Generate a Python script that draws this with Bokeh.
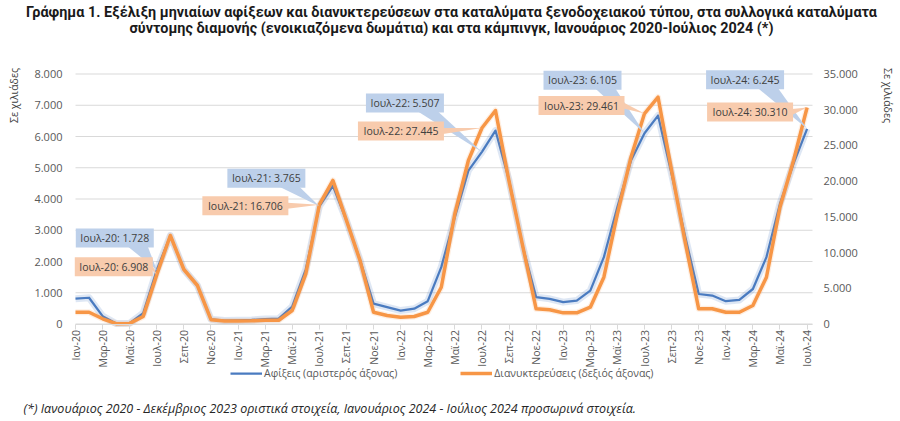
import math
from bokeh.plotting import figure
from bokeh.models import LinearAxis, Range1d, FixedTicker, Label, Legend, LegendItem
from bokeh.core.properties import value
from bokeh.embed import file_html
from bokeh.resources import INLINE

# ---------------- data ----------------
month_names = ["Ιαν", "Φεβ", "Μαρ", "Απρ", "Μαϊ", "Ιουν", "Ιουλ", "Αυγ", "Σεπ", "Οκτ", "Νοε", "Δεκ"]
years = ["20", "21", "22", "23", "24"]
periods = [f"{m}-{y}" for y in years for m in month_names][:55]

# arrivals, thousands (left axis)
arrivals = [810, 840, 250, 15, 25, 350, 1728, 2830, 1740, 1230, 150, 110,
            120, 130, 160, 170, 560, 1750, 3765, 4420, 3310, 2050, 650, 540,
            430, 490, 730, 1820, 3420, 4910, 5507, 6190, 4600, 2500, 860, 805,
            700, 750, 1070, 2140, 3740, 5230, 6105, 6670, 4800, 2800, 960, 910,
            730, 770, 1120, 2140, 3850, 5130, 6245]
# overnight stays, thousands (right axis)
nights = [1650, 1650, 730, 50, 80, 1050, 6908, 12390, 7630, 5390, 600, 420,
          430, 440, 520, 520, 1890, 7030, 16706, 20100, 14500, 8900, 1650, 1190,
          950, 1050, 1650, 5150, 15430, 22890, 27445, 29890, 20000, 11000, 2130, 1990,
          1560, 1560, 2350, 6550, 15430, 23350, 29461, 31750, 21500, 11500, 2130, 2130,
          1650, 1650, 2590, 6550, 16350, 22890, 30310]

left_ticks = [0, 1000, 2000, 3000, 4000, 5000, 6000, 7000, 8000]
right_ticks = [0, 5000, 10000, 15000, 20000, 25000, 30000, 35000]
callout_periods = ["Ιουλ-20", "Ιουλ-21", "Ιουλ-22", "Ιουλ-23", "Ιουλ-24"]

title_lines = [
    "Γράφημα 1. Εξέλιξη μηνιαίων αφίξεων και διανυκτερεύσεων στα καταλύματα ξενοδοχειακού τύπου, στα συλλογικά καταλύματα",
    "σύντομης διαμονής (ενοικιαζόμενα δωμάτια) και στα κάμπινγκ, Ιανουάριος 2020-Ιούλιος 2024 (*)",
]
footnote = "(*) Ιανουάριος 2020 - Δεκέμβριος 2023 οριστικά στοιχεία, Ιανουάριος 2024 - Ιούλιος 2024 προσωρινά στοιχεία."
axis_title = "Σε χιλιάδες"
legend_labels = ["Αφίξεις (αριστερός άξονας)", "Διανυκτερεύσεις (δεξιός άξονας)"]

# ---------------- layout (pixels of the canvas) ----------------
W, H = 900, 421
PLOT_L, PLOT_R = 75, 812          # x pixels of first month / right end of plot area
PLOT_T, PLOT_B = 73.5, 323.5      # y pixels of top tick / zero line
X_END = 54.4
Y_MAX = left_ticks[-1]
YR_MAX = right_ticks[-1]
PXX = (PLOT_R - PLOT_L) / X_END
PXY = (PLOT_B - PLOT_T) / Y_MAX
R2L = Y_MAX / YR_MAX

def px_to_x(px):
    return (px - PLOT_L) / PXX

def py_to_y(py):
    return (PLOT_B - py) / PXY

def sy(py):  # screen y (from bottom of canvas)
    return H - py

BLUE = "#4A7BC0"
ORANGE = "#F79646"
BLUE_BOX = "#BDD0EA"
ORANGE_BOX = "#F8CBAD"
GRID = "#D9D9D9"
TXT = "#595959"
FONT = "Open Sans"

def fmt(v):
    return f"{v:,}".replace(",", ".")

p = figure(width=W, height=H, output_backend="svg", toolbar_location=None,
           x_range=Range1d(px_to_x(0), px_to_x(W)), y_range=Range1d(py_to_y(H), py_to_y(0)),
           x_axis_location=None, y_axis_location=None, min_border=0)
p.extra_y_ranges = {"right": Range1d(py_to_y(H) / R2L, py_to_y(0) / R2L)}
p.outline_line_color = None
p.background_fill_color = "white"
p.border_fill_color = "white"
p.grid.visible = False

# gridlines limited to the plot area
p.segment(x0=[0] * len(left_ticks), x1=[X_END] * len(left_ticks), y0=left_ticks, y1=left_ticks,
          line_color=GRID, line_width=1)

# axes at fixed locations
xa = LinearAxis(fixed_location=0, bounds=(0, X_END),
                ticker=FixedTicker(ticks=list(range(0, len(periods), 2))))
xa.major_label_overrides = {i: periods[i] for i in range(0, len(periods), 2)}
xa.major_label_orientation = math.pi / 2
xa.axis_line_color = GRID
xa.major_tick_line_color = GRID
xa.major_tick_out = 5
xa.major_tick_in = 0
xa.minor_tick_line_color = None
xa.major_label_standoff = 1
xa.major_label_text_font = FONT
xa.major_label_text_font_size = "10.5px"
xa.major_label_text_color = TXT
p.add_layout(xa, "below")

ya = LinearAxis(fixed_location=0, ticker=FixedTicker(ticks=left_ticks))
ya.major_label_overrides = {t: fmt(t) for t in left_ticks}
ya.axis_line_color = None
ya.major_tick_line_color = None
ya.major_tick_out = 0
ya.minor_tick_line_color = None
ya.major_label_standoff = 13
ya.major_label_text_font = FONT
ya.major_label_text_font_size = "11px"
ya.major_label_text_color = TXT
p.add_layout(ya, "left")

ra = LinearAxis(y_range_name="right", fixed_location=X_END, ticker=FixedTicker(ticks=right_ticks))
ra.major_label_overrides = {t: fmt(t) for t in right_ticks}
ra.axis_line_color = None
ra.major_tick_line_color = None
ra.major_tick_out = 0
ra.minor_tick_line_color = None
ra.major_label_standoff = 11
ra.major_label_text_font = FONT
ra.major_label_text_font_size = "11px"
ra.major_label_text_color = TXT
p.add_layout(ra, "right")

# lines
xs = list(range(len(periods)))
p.line(xs, arrivals, line_color=BLUE, line_width=7, line_alpha=0.18, line_join="round")
blue_r = p.line(xs, arrivals, line_color=BLUE, line_width=2.25, line_join="round")
p.line(xs, nights, y_range_name="right", line_color=ORANGE, line_width=6, line_alpha=0.15, line_join="round")
orange_r = p.line(xs, nights, y_range_name="right", line_color=ORANGE, line_width=3.5, line_join="round")

# callouts: offsets in pixels (dx right, dy down) from the point to the box centre
blue_offsets = [(-42, -32), (-53, -28), (-77, -49), (-62, -53), (-62, -49)]
orange_offsets = [(-43, -8), (-74, 1), (-81, 3), (-63, -8), (-57, 4.5)]
BOX_H = 19

def callout(idx, yval_left, text, off, fill, wedge_side):
    dx, dy = off
    w = 8 * len(text) - 34
    xc = idx + dx / PXX
    yc = yval_left - dy / PXY
    if wedge_side == "bottom":
        bx1 = xc + (w / 2 - 26) / PXX
        bx2 = xc + (w / 2 - 6) / PXX
        by = yc - (BOX_H / 2 - 1) / PXY
        p.patch([bx1, bx2, idx], [by, by, yval_left], fill_color=fill, line_color=None)
    else:
        bx = xc + (w / 2 - 1) / PXX
        p.patch([bx, bx, idx], [yc + 3 / PXY, yc - 3 / PXY, yval_left], fill_color=fill, line_color=None)
    p.rect(x=[xc], y=[yc], width=w, height=BOX_H, width_units="screen", height_units="screen",
           fill_color=fill, line_color=None)
    p.text(x=[xc], y=[yc], text=[text], text_align="center", text_baseline="middle",
           text_font=value(FONT), text_font_size="10.5px", text_color="#404040")

for k, per in enumerate(callout_periods):
    i = periods.index(per)
    callout(i, arrivals[i], f"{per}: {fmt(arrivals[i])}", blue_offsets[k], BLUE_BOX, "bottom")
    callout(i, nights[i] * R2L, f"{per}: {fmt(nights[i])}", orange_offsets[k], ORANGE_BOX, "right")

# legend
legend = Legend(items=[LegendItem(label=legend_labels[0], renderers=[blue_r]),
                       LegendItem(label=legend_labels[1], renderers=[orange_r])],
                orientation="horizontal", location=(230, sy(380)),
                glyph_width=32, glyph_height=12, label_height=12, label_standoff=2, spacing=63,
                padding=0, margin=0, border_line_color=None, background_fill_alpha=0,
                label_text_font=FONT, label_text_font_size="10.5px", label_text_color=TXT)
p.add_layout(legend)

# titles
for line, py in zip(title_lines, [12, 28]):
    p.add_layout(Label(x=451, y=sy(py), x_units="screen", y_units="screen", text=line,
                       text_align="center", text_baseline="middle",
                       text_font="Roboto", text_font_style="bold",
                       text_font_size="14.4px", text_color="#1A1A1A"))

# axis titles
p.add_layout(Label(x=13, y=sy(95), x_units="screen", y_units="screen", text=axis_title,
                   angle=math.pi / 2, text_align="center", text_baseline="middle",
                   text_font=FONT, text_font_size="10.5px", text_color="#404040"))
p.add_layout(Label(x=887, y=sy(95), x_units="screen", y_units="screen", text=axis_title,
                   angle=-math.pi / 2, text_align="center", text_baseline="middle",
                   text_font=FONT, text_font_size="10.5px", text_color="#404040"))

# footnote
p.add_layout(Label(x=23, y=sy(408), x_units="screen", y_units="screen", text=footnote,
                   text_align="left", text_baseline="middle", text_font=FONT,
                   text_font_style="italic", text_font_size="12.5px", text_color="#262626"))

open("out.html", "w").write(file_html(p, INLINE))
